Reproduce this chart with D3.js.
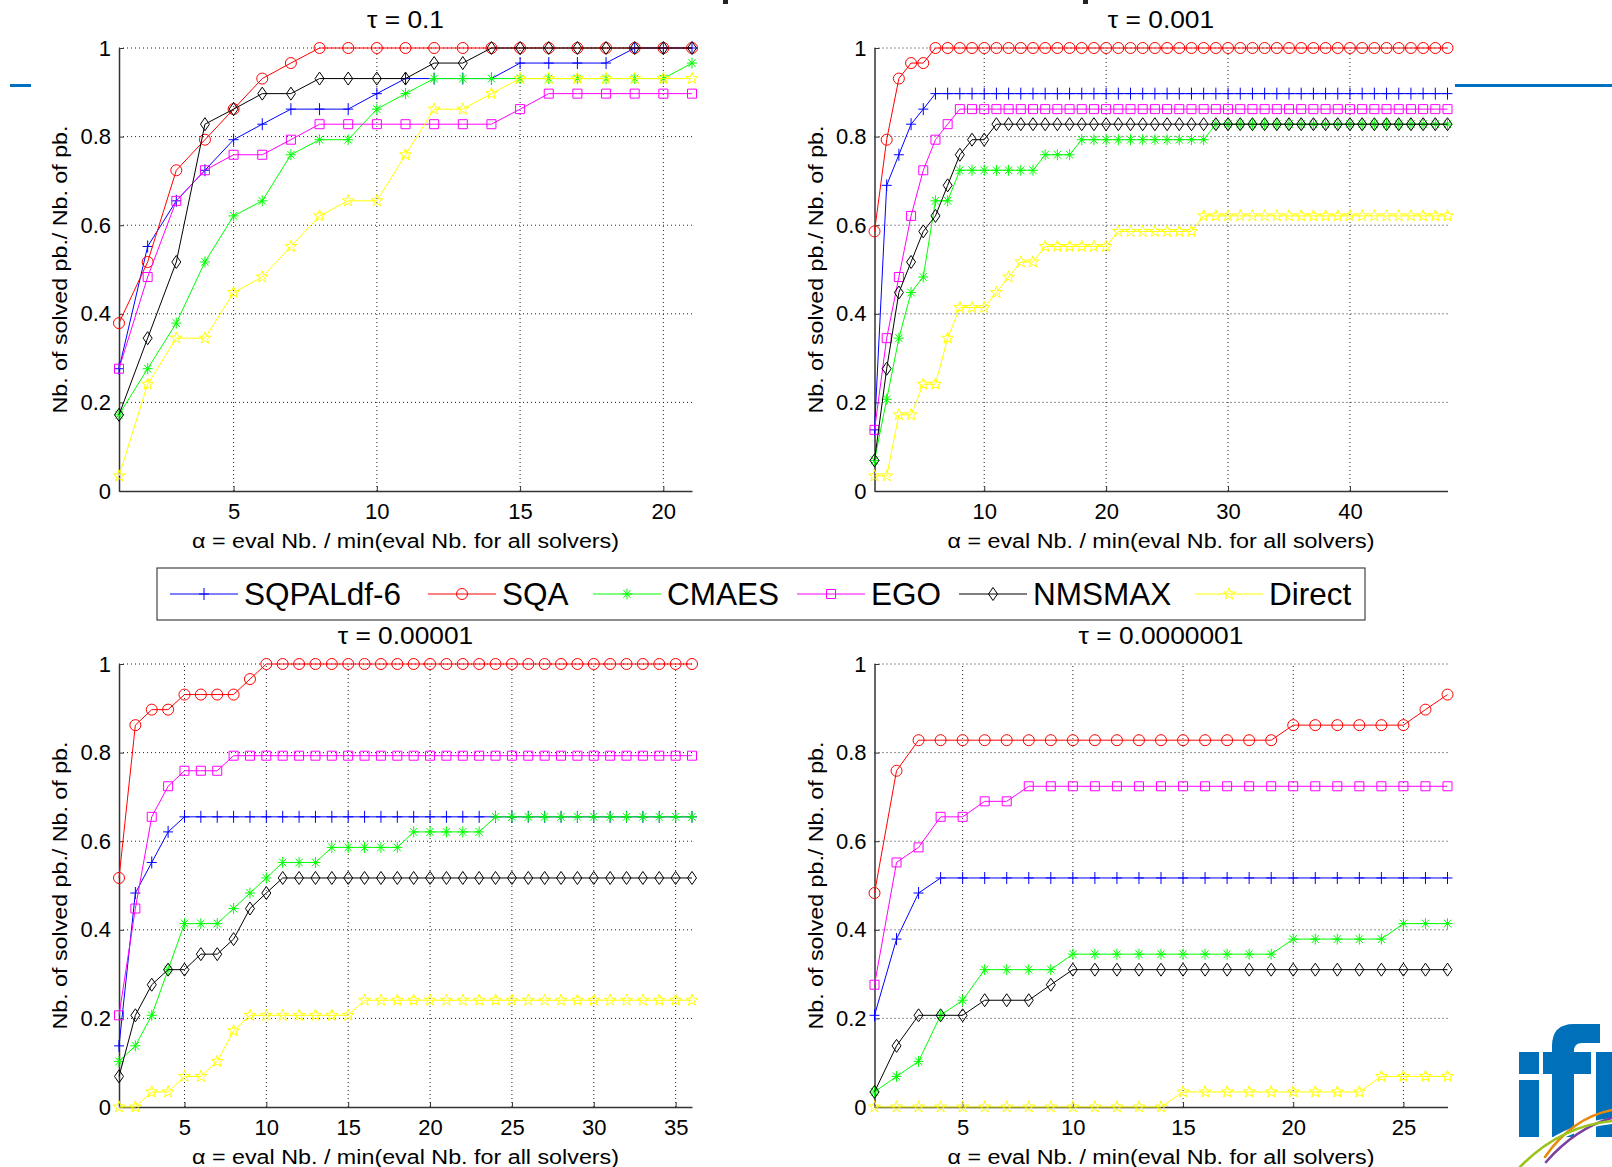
<!DOCTYPE html>
<html><head><meta charset="utf-8">
<script src="https://cdn.jsdelivr.net/npm/d3@7"></script>
<style>body{margin:0;background:#fff}svg{display:block;background:#fff}</style>
</head><body>
<svg id="c" width="1612" height="1167"></svg>
<script>
// ---------------- DATA ----------------
const solvers = ["SQPALdf-6", "SQA", "CMAES", "EGO", "NMSMAX", "Direct"];
const colors  = ["#0000ff", "#ff0000", "#00ff00", "#ff00ff", "#000000", "#ffff00"];
const markers = ["plus", "circle", "asterisk", "square", "diamond", "star"];
const yTicks  = [0, 0.2, 0.4, 0.6, 0.8, 1];

const titles = ["\u03c4 = 0.1", "\u03c4 = 0.001", "\u03c4 = 0.00001", "\u03c4 = 0.0000001"];
const xMaxs  = [21, 48, 36, 27];
const xTicks1 = [5, 10, 15, 20];
const xTicks2 = [10, 20, 30, 40];
const xTicks3 = [5, 10, 15, 20, 25, 30, 35];
const xTicks4 = [5, 10, 15, 20, 25];
const xLabel = "\u03b1 = eval Nb. / min(eval Nb. for all solvers)";
const yLabel = "Nb. of solved pb./ Nb. of pb.";

// tau = 0.1 (alpha = 1..21)
const t1_SQPAL  = [0.276,0.552,0.655,0.724,0.793,0.828,0.862,0.862,0.862,0.897,0.931,0.931,0.931,0.931,0.966,0.966,0.966,0.966,1,1,1];
const t1_SQA    = [0.379,0.517,0.724,0.793,0.862,0.931,0.966,1,1,1,1,1,1,1,1,1,1,1,1,1,1];
const t1_CMAES  = [0.172,0.276,0.379,0.517,0.621,0.655,0.759,0.793,0.793,0.862,0.897,0.931,0.931,0.931,0.931,0.931,0.931,0.931,0.931,0.931,0.966];
const t1_EGO    = [0.276,0.483,0.655,0.724,0.759,0.759,0.793,0.828,0.828,0.828,0.828,0.828,0.828,0.828,0.862,0.897,0.897,0.897,0.897,0.897,0.897];
const t1_NMSMAX = [0.172,0.345,0.517,0.828,0.862,0.897,0.897,0.931,0.931,0.931,0.931,0.966,0.966,1,1,1,1,1,1,1,1];
const t1_Direct = [0.034,0.241,0.345,0.345,0.448,0.483,0.552,0.621,0.655,0.655,0.759,0.862,0.862,0.897,0.931,0.931,0.931,0.931,0.931,0.931,0.931];

// tau = 0.001 (alpha = 1..48)
const t2_SQPAL = [
 0.138,0.690,0.759,0.828,0.862,0.897,0.897,0.897,0.897,0.897,
 0.897,0.897,0.897,0.897,0.897,0.897,0.897,0.897,0.897,0.897,
 0.897,0.897,0.897,0.897,0.897,0.897,0.897,0.897,0.897,0.897,
 0.897,0.897,0.897,0.897,0.897,0.897,0.897,0.897,0.897,0.897,
 0.897,0.897,0.897,0.897,0.897,0.897,0.897,0.897];
const t2_SQA = [
 0.586,0.793,0.931,0.966,0.966,1,1,1,1,1,
 1,1,1,1,1,1,1,1,1,1,
 1,1,1,1,1,1,1,1,1,1,
 1,1,1,1,1,1,1,1,1,1,
 1,1,1,1,1,1,1,1];
const t2_CMAES = [
 0.069,0.207,0.345,0.448,0.483,0.655,0.655,0.724,0.724,0.724,
 0.724,0.724,0.724,0.724,0.759,0.759,0.759,0.793,0.793,0.793,
 0.793,0.793,0.793,0.793,0.793,0.793,0.793,0.793,0.828,0.828,
 0.828,0.828,0.828,0.828,0.828,0.828,0.828,0.828,0.828,0.828,
 0.828,0.828,0.828,0.828,0.828,0.828,0.828,0.828];
const t2_EGO = [
 0.138,0.345,0.483,0.621,0.724,0.793,0.828,0.862,0.862,0.862,
 0.862,0.862,0.862,0.862,0.862,0.862,0.862,0.862,0.862,0.862,
 0.862,0.862,0.862,0.862,0.862,0.862,0.862,0.862,0.862,0.862,
 0.862,0.862,0.862,0.862,0.862,0.862,0.862,0.862,0.862,0.862,
 0.862,0.862,0.862,0.862,0.862,0.862,0.862,0.862];
const t2_NMSMAX = [
 0.069,0.276,0.448,0.517,0.586,0.621,0.690,0.759,0.793,0.793,
 0.828,0.828,0.828,0.828,0.828,0.828,0.828,0.828,0.828,0.828,
 0.828,0.828,0.828,0.828,0.828,0.828,0.828,0.828,0.828,0.828,
 0.828,0.828,0.828,0.828,0.828,0.828,0.828,0.828,0.828,0.828,
 0.828,0.828,0.828,0.828,0.828,0.828,0.828,0.828];
const t2_Direct = [
 0.034,0.034,0.172,0.172,0.241,0.241,0.345,0.414,0.414,0.414,
 0.448,0.483,0.517,0.517,0.552,0.552,0.552,0.552,0.552,0.552,
 0.586,0.586,0.586,0.586,0.586,0.586,0.586,0.621,0.621,0.621,
 0.621,0.621,0.621,0.621,0.621,0.621,0.621,0.621,0.621,0.621,
 0.621,0.621,0.621,0.621,0.621,0.621,0.621,0.621];

// tau = 0.00001 (alpha = 1..36)
const t3_SQPAL = [
 0.138,0.483,0.552,0.621,0.655,0.655,0.655,0.655,0.655,0.655,
 0.655,0.655,0.655,0.655,0.655,0.655,0.655,0.655,0.655,0.655,
 0.655,0.655,0.655,0.655,0.655,0.655,0.655,0.655,0.655,0.655,
 0.655,0.655,0.655,0.655,0.655,0.655];
const t3_SQA = [
 0.517,0.862,0.897,0.897,0.931,0.931,0.931,0.931,0.966,1,
 1,1,1,1,1,1,1,1,1,1,
 1,1,1,1,1,1,1,1,1,1,
 1,1,1,1,1,1];
const t3_CMAES = [
 0.103,0.138,0.207,0.310,0.414,0.414,0.414,0.448,0.483,0.517,
 0.552,0.552,0.552,0.586,0.586,0.586,0.586,0.586,0.621,0.621,
 0.621,0.621,0.621,0.655,0.655,0.655,0.655,0.655,0.655,0.655,
 0.655,0.655,0.655,0.655,0.655,0.655];
const t3_EGO = [
 0.207,0.448,0.655,0.724,0.759,0.759,0.759,0.793,0.793,0.793,
 0.793,0.793,0.793,0.793,0.793,0.793,0.793,0.793,0.793,0.793,
 0.793,0.793,0.793,0.793,0.793,0.793,0.793,0.793,0.793,0.793,
 0.793,0.793,0.793,0.793,0.793,0.793];
const t3_NMSMAX = [
 0.069,0.207,0.276,0.310,0.310,0.345,0.345,0.379,0.448,0.483,
 0.517,0.517,0.517,0.517,0.517,0.517,0.517,0.517,0.517,0.517,
 0.517,0.517,0.517,0.517,0.517,0.517,0.517,0.517,0.517,0.517,
 0.517,0.517,0.517,0.517,0.517,0.517];
const t3_Direct = [
 0,0,0.034,0.034,0.069,0.069,0.103,0.172,0.207,0.207,
 0.207,0.207,0.207,0.207,0.207,0.241,0.241,0.241,0.241,0.241,
 0.241,0.241,0.241,0.241,0.241,0.241,0.241,0.241,0.241,0.241,
 0.241,0.241,0.241,0.241,0.241,0.241];

// tau = 0.0000001 (alpha = 1..27)
const t4_SQPAL = [
 0.207,0.379,0.483,0.517,0.517,0.517,0.517,0.517,0.517,0.517,
 0.517,0.517,0.517,0.517,0.517,0.517,0.517,0.517,0.517,0.517,
 0.517,0.517,0.517,0.517,0.517,0.517,0.517];
const t4_SQA = [
 0.483,0.759,0.828,0.828,0.828,0.828,0.828,0.828,0.828,0.828,
 0.828,0.828,0.828,0.828,0.828,0.828,0.828,0.828,0.828,0.862,
 0.862,0.862,0.862,0.862,0.862,0.897,0.931];
const t4_CMAES = [
 0.034,0.069,0.103,0.207,0.241,0.310,0.310,0.310,0.310,0.345,
 0.345,0.345,0.345,0.345,0.345,0.345,0.345,0.345,0.345,0.379,
 0.379,0.379,0.379,0.379,0.414,0.414,0.414];
const t4_EGO = [
 0.276,0.552,0.586,0.655,0.655,0.690,0.690,0.724,0.724,0.724,
 0.724,0.724,0.724,0.724,0.724,0.724,0.724,0.724,0.724,0.724,
 0.724,0.724,0.724,0.724,0.724,0.724,0.724];
const t4_NMSMAX = [
 0.034,0.138,0.207,0.207,0.207,0.241,0.241,0.241,0.276,0.310,
 0.310,0.310,0.310,0.310,0.310,0.310,0.310,0.310,0.310,0.310,
 0.310,0.310,0.310,0.310,0.310,0.310,0.310];
const t4_Direct = [
 0,0,0,0,0,0,0,0,0,0,
 0,0,0,0,0.034,0.034,0.034,0.034,0.034,0.034,
 0.034,0.034,0.034,0.069,0.069,0.069,0.069];

const panelSeries = [
  [t1_SQPAL, t1_SQA, t1_CMAES, t1_EGO, t1_NMSMAX, t1_Direct],
  [t2_SQPAL, t2_SQA, t2_CMAES, t2_EGO, t2_NMSMAX, t2_Direct],
  [t3_SQPAL, t3_SQA, t3_CMAES, t3_EGO, t3_NMSMAX, t3_Direct],
  [t4_SQPAL, t4_SQA, t4_CMAES, t4_EGO, t4_NMSMAX, t4_Direct]
];
const panelTicks = [xTicks1, xTicks2, xTicks3, xTicks4];

// ---------------- LAYOUT ----------------
const FONT = '"Liberation Sans", Arial, Helvetica, sans-serif';
const W = 573, H = 443;
const layout = [{left:119, top:48}, {left:874.5, top:48}, {left:119, top:664}, {left:874.5, top:664}];
const legendX = [170, 428, 593, 797, 959, 1195];

const svg = d3.select("#c");

function starPath(ro, ri) {
  const pts = [];
  for (let k = 0; k < 10; k++) {
    const r = k % 2 === 0 ? ro : ri;
    const a = -Math.PI / 2 + k * Math.PI / 5;
    pts.push([r * Math.cos(a), r * Math.sin(a)]);
  }
  return "M" + pts.map(p => p[0].toFixed(2) + "," + p[1].toFixed(2)).join("L") + "Z";
}
const markerPaths = {
  plus: "M-5,0H5M0,-6V6",
  circle: "M5.5,0A5.5,5.5 0 1,1 -5.5,0A5.5,5.5 0 1,1 5.5,0Z",
  asterisk: "M-5,0H5M0,-5.5V5.5M-3.6,-3.9L3.6,3.9M-3.6,3.9L3.6,-3.9",
  square: "M-4.5,-4.5H4.5V4.5H-4.5Z",
  diamond: "M0,-6.5L4.5,0L0,6.5L-4.5,0Z",
  star: starPath(6.2, 2.5)
};

// background decorations (slide)
svg.append("rect").attr("x", 10).attr("y", 84).attr("width", 21).attr("height", 3).attr("fill", "#0070c0");
svg.append("rect").attr("x", 1455).attr("y", 84).attr("width", 157).attr("height", 3).attr("fill", "#0070c0");
svg.append("rect").attr("x", 723).attr("y", 0).attr("width", 5).attr("height", 4).attr("fill", "#222");
svg.append("rect").attr("x", 1083).attr("y", 0).attr("width", 5).attr("height", 4).attr("fill", "#222");

// logo
const logo = svg.append("g").attr("fill", "#0070bb");
logo.append("rect").attr("x", 1519).attr("y", 1080).attr("width", 20).attr("height", 57);
logo.append("rect").attr("x", 1519).attr("y", 1052).attr("width", 20).attr("height", 22);
logo.append("path").attr("d", "M1552,1137V1046Q1552,1024 1574,1024H1600V1043H1582Q1574,1043 1574,1051V1137Z");
logo.append("rect").attr("x", 1543).attr("y", 1052).attr("width", 48).attr("height", 22);
logo.append("rect").attr("x", 1596).attr("y", 1052).attr("width", 16).attr("height", 85);
const curves = svg.append("g").attr("fill", "none").attr("stroke-width", 2.6).attr("stroke-linecap", "round");
curves.append("path").attr("d", "M1520,1167Q1560,1126 1612,1121").attr("stroke", "#fff").attr("stroke-width", 6);
curves.append("path").attr("d", "M1545,1157Q1572,1118 1612,1110").attr("stroke", "#e8890c");
curves.append("path").attr("d", "M1546,1162Q1576,1128 1612,1118").attr("stroke", "#7b3f9e");
curves.append("path").attr("d", "M1520,1167Q1560,1126 1612,1121").attr("stroke", "#9bc31c");

// ---------------- PANELS ----------------
panelSeries.forEach((series, i) => {
  const {left, top} = layout[i];
  const xt = panelTicks[i];
  const x = d3.scaleLinear().domain([1, xMaxs[i]]).range([left, left + W]);
  const y = d3.scaleLinear().domain([0, 1]).range([top + H, top]);
  const g = svg.append("g");

  // grid
  g.append("g").selectAll("line").data(xt).join("line")
    .attr("x1", d => x(d)).attr("x2", d => x(d)).attr("y1", top + H).attr("y2", top)
    .attr("stroke", "#222").attr("stroke-width", 1).attr("stroke-dasharray", "1,3");
  g.append("g").selectAll("line").data(yTicks.filter(v => v > 0)).join("line")
    .attr("x1", left).attr("x2", left + W).attr("y1", d => y(d)).attr("y2", d => y(d))
    .attr("stroke", "#222").attr("stroke-width", 1).attr("stroke-dasharray", "1,3");

  // axes
  const ax = g.append("g").attr("transform", `translate(0,${top + H})`)
    .call(d3.axisBottom(x).tickValues(xt).tickFormat(d3.format("d")).tickSizeInner(-5).tickSizeOuter(0).tickPadding(12));
  const ay = g.append("g").attr("transform", `translate(${left},0)`)
    .call(d3.axisLeft(y).tickValues(yTicks).tickFormat(d3.format("~g")).tickSizeInner(-5).tickSizeOuter(0).tickPadding(8));
  [ax, ay].forEach(a => {
    a.attr("font-family", FONT).attr("font-size", 22).attr("color", "#000");
    a.select(".domain").attr("stroke", "#333").attr("stroke-width", 1.5);
    a.selectAll(".tick line").attr("stroke", "#333");
  });

  // series
  series.forEach((vals, s) => {
    const pts = vals.map((v, j) => [j + 1, v]);
    g.append("path").datum(pts)
      .attr("d", d3.line().x(d => x(d[0])).y(d => y(d[1])))
      .attr("fill", "none").attr("stroke", colors[s]).attr("stroke-width", 1);
    g.append("g").selectAll("path").data(pts).join("path")
      .attr("d", markerPaths[markers[s]])
      .attr("transform", d => `translate(${x(d[0])},${y(d[1])})`)
      .attr("fill", "none").attr("stroke", colors[s]).attr("stroke-width", 1);
  });

  // title
  const t = g.append("text").attr("x", left + W / 2).attr("y", top - 20)
    .attr("text-anchor", "middle").attr("font-family", FONT).attr("font-size", 23.5).attr("fill", "#000")
    .text(titles[i]);
  const tl = t.node().getComputedTextLength();
  t.attr("textLength", tl * 1.12).attr("lengthAdjust", "spacingAndGlyphs");

  // x label
  g.append("text").attr("x", left + W / 2).attr("y", top + H + 57)
    .attr("text-anchor", "middle").attr("font-family", FONT).attr("font-size", 19.5).attr("fill", "#000")
    .attr("textLength", 427).attr("lengthAdjust", "spacingAndGlyphs")
    .text(xLabel);
  // y label
  g.append("text").attr("transform", `translate(${left - 52},${top + H / 2}) rotate(-90)`)
    .attr("text-anchor", "middle").attr("font-family", FONT).attr("font-size", 21).attr("fill", "#000")
    .attr("textLength", 288).attr("lengthAdjust", "spacingAndGlyphs")
    .text(yLabel);
});

// ---------------- LEGEND ----------------
const lg = svg.append("g");
lg.append("rect").attr("x", 157).attr("y", 568).attr("width", 1208).attr("height", 52)
  .attr("fill", "#fff").attr("stroke", "#444").attr("stroke-width", 1.2);
solvers.forEach((name, s) => {
  const lx = legendX[s], ly = 594;
  lg.append("line").attr("x1", lx).attr("x2", lx + 68).attr("y1", ly).attr("y2", ly)
    .attr("stroke", colors[s]).attr("stroke-width", 1);
  lg.append("path").attr("d", markerPaths[markers[s]]).attr("transform", `translate(${lx + 34},${ly})`)
    .attr("fill", "none").attr("stroke", colors[s]).attr("stroke-width", 1);
  lg.append("text").attr("x", lx + 74).attr("y", 605).attr("font-family", FONT).attr("font-size", 31.5)
    .attr("fill", "#000").text(name);
});
</script>
</body></html>
